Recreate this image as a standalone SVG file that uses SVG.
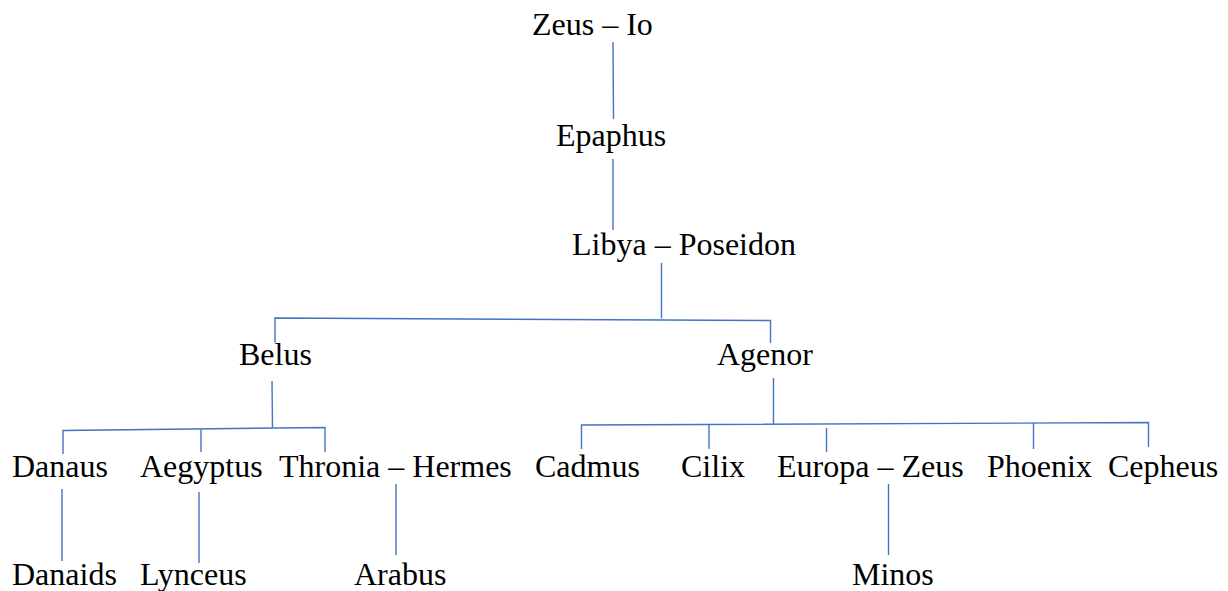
<svg xmlns="http://www.w3.org/2000/svg" width="1228" height="591" viewBox="0 0 1228 591">
<style>
.c line,.c polyline{stroke:#4472C4;stroke-width:1.4;fill:none}
.t text{font-family:"Liberation Serif","Times New Roman",serif;font-size:32px;fill:#000}
</style>
<rect width="1228" height="591" fill="#fff"/>
<g class="c" id="connectors">
<line x1="613" y1="42" x2="613.5" y2="119"/>
<line x1="613" y1="159" x2="613" y2="230"/>
<line x1="661.5" y1="263" x2="661.5" y2="318.5"/>
<polyline points="275,342.5 275,318 770.5,320.5 770.5,343"/>
<line x1="272" y1="381" x2="272.5" y2="427.5"/>
<polyline points="63,454 63,430.5 325,427.5 325,452"/>
<line x1="201" y1="429.5" x2="201" y2="452"/>
<line x1="773.5" y1="378" x2="773.5" y2="424"/>
<polyline points="581.5,449 581.5,425 1148.5,422.5 1148.5,447"/>
<line x1="709" y1="424.5" x2="709" y2="449"/>
<line x1="826.5" y1="428" x2="826.5" y2="452"/>
<line x1="1033.5" y1="423" x2="1033.5" y2="449"/>
<line x1="62" y1="489" x2="62" y2="561"/>
<line x1="199" y1="492" x2="199" y2="563"/>
<line x1="396" y1="484" x2="396" y2="555"/>
<line x1="888.5" y1="484" x2="888.5" y2="555"/>
</g>
<g class="t">
<g id="zeus-io"><text x="532" y="35">Zeus – Io</text></g>
<g id="epaphus"><text x="556" y="146">Epaphus</text></g>
<g id="libya-poseidon"><text x="572" y="255">Libya – Poseidon</text></g>
<g id="belus"><text x="239" y="365">Belus</text></g>
<g id="agenor"><text x="717" y="365">Agenor</text></g>
<g id="danaus"><text x="12" y="477">Danaus</text></g>
<g id="aegyptus"><text x="140" y="477">Aegyptus</text></g>
<g id="thronia-hermes"><text x="279" y="477">Thronia – Hermes</text></g>
<g id="cadmus"><text x="535" y="477">Cadmus</text></g>
<g id="cilix"><text x="681" y="477">Cilix</text></g>
<g id="europa-zeus"><text x="777" y="477">Europa – Zeus</text></g>
<g id="phoenix"><text x="987" y="477">Phoenix</text></g>
<g id="cepheus"><text x="1108" y="477">Cepheus</text></g>
<g id="danaids"><text x="12" y="585">Danaids</text></g>
<g id="lynceus"><text x="140" y="585">Lynceus</text></g>
<g id="arabus"><text x="354" y="585">Arabus</text></g>
<g id="minos"><text x="852" y="585">Minos</text></g>
</g>
</svg>
